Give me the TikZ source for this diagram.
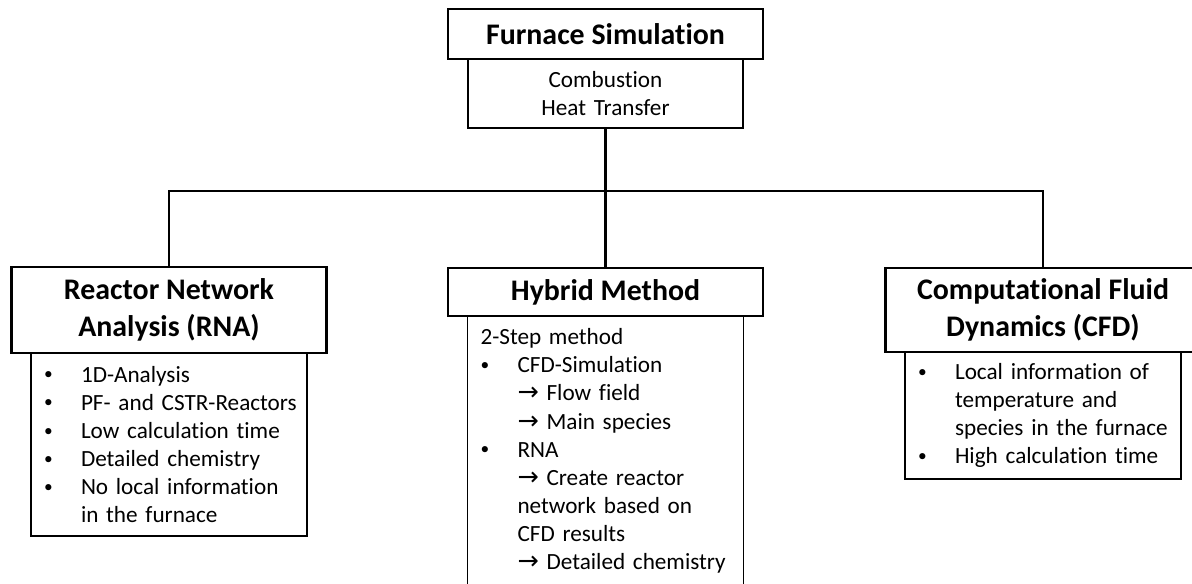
\documentclass[tikz,border=0pt]{standalone}
\usepackage{fontspec}
\setmainfont{Carlito}[Ligatures=NoCommon]
\newfontfamily\arrowfont{DejaVu Sans}
\usetikzlibrary{positioning}
\newcommand{\bitem}{\hspace*{0.1cm}\makebox[0.74cm][l]{\raisebox{0.1em}{\scalebox{0.75}{\textbullet}}}}
\newcommand{\bcont}{\hspace*{0.84cm}}
\newcommand{\toarr}{{\arrowfont\fontsize{14.5}{16}\selectfont →}}

\begin{document}
\begin{tikzpicture}[
        node distance=0pt,
        titlebox/.style={rectangle, draw=black, line width=1.6pt, outer sep=0pt, minimum width=6.3cm, minimum height=1cm, inner sep=2pt, align=center, font=\fontsize{17}{21}\selectfont\bfseries},
        subbox/.style={rectangle, draw=black, line width=0.8pt, outer sep=0pt, text width=5.2cm, inner xsep=0.16cm, inner ysep=2pt, align=left, font=\fontsize{13.2}{16}\selectfont},
        link/.style={line width=1.4pt}
    ]
    \clip (0,0) rectangle (23.84,-11.66);

    % top of the tree
    \node[titlebox] (furnace) at (12.11,-0.68) {Furnace Simulation};
    \node[subbox, below=of furnace, text width=5.18cm, align=center, minimum height=1.38cm] (furnacesub) {Combustion\\Heat Transfer};

    % the three methods
    \node[titlebox, minimum height=1.72cm] (rna) at (3.38,-6.2) {Reactor Network\\Analysis (RNA)};
    \node[titlebox, minimum height=0.96cm] (hybrid) at (12.11,-5.84) {Hybrid Method};
    \node[titlebox, minimum height=1.68cm] (cfd) at (20.86,-6.2) {Computational Fluid\\Dynamics (CFD)};

    \node[subbox, below=of rna, minimum height=3.66cm] (rnasub) {\bitem 1D-Analysis\\
        \bitem PF- and CSTR-Reactors\\
        \bitem Low calculation time\\
        \bitem Detailed chemistry\\
        \bitem No local information\\
        \bcont in the furnace};
    \node[subbox, below=of hybrid, minimum height=5.4cm] (hybridsub) {\hspace*{0.1cm}2-Step method\\
        \bitem CFD-Simulation\\
        \bcont \toarr{} Flow field\\
        \bcont \toarr{} Main species\\
        \bitem RNA\\
        \bcont \toarr{} Create reactor\\
        \bcont network based on\\
        \bcont CFD results\\
        \bcont \toarr{} Detailed chemistry};
    \node[subbox, below=of cfd, minimum height=2.54cm] (cfdsub) {\bitem Local information of\\
        \bcont temperature and\\
        \bcont species in the furnace\\
        \bitem High calculation time};

    % connectors
    \coordinate (bar) at (12.11,-3.82);
    \draw[link] (furnacesub.south) -- (furnacesub.south |- bar);
    \draw[link] (rna.north) |- (bar) -| (cfd.north);
    \draw[link] (hybrid.north) -- (hybrid.north |- bar);
\end{tikzpicture}
\end{document}
